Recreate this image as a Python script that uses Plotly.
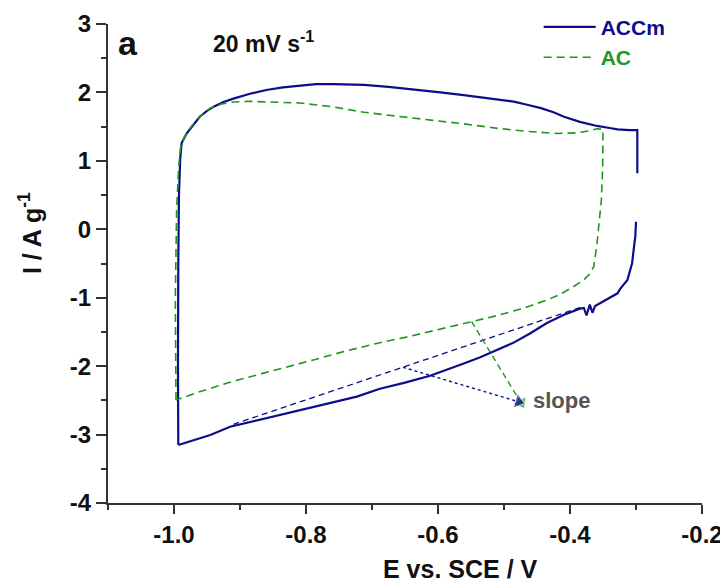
import plotly.graph_objects as go

# ---------------- data ----------------
accm_x = [-0.9935, -0.9940, -0.9935, -0.9925, -0.9905, -0.9884, -0.981, -0.970, -0.961, -0.950,
          -0.940, -0.925, -0.910, -0.885, -0.860, -0.835, -0.809, -0.785, -0.759, -0.735,
          -0.712, -0.675, -0.636, -0.600, -0.561, -0.520, -0.485, -0.465, -0.444, -0.425,
          -0.409, -0.385, -0.359, -0.340, -0.328, -0.310, -0.298, -0.298,
          None,
          -0.300, -0.301, -0.303, -0.306, -0.313, -0.324, -0.328, -0.338, -0.348, -0.362,
          -0.366, -0.370, -0.375, -0.379, -0.385, -0.409, -0.435, -0.460, -0.486, -0.520,
          -0.536, -0.561, -0.612, -0.650, -0.675, -0.688, -0.723, -0.764, -0.804, -0.839,
          -0.880, -0.915, -0.945, -0.976, -0.9935]
accm_y = [-3.15, -2.0, -0.5, 0.5, 1.05, 1.26, 1.40, 1.54, 1.645, 1.73,
          1.79, 1.86, 1.91, 1.98, 2.035, 2.075, 2.10, 2.12, 2.12, 2.12,
          2.11, 2.08, 2.045, 2.005, 1.96, 1.91, 1.865, 1.82, 1.77, 1.71,
          1.645, 1.57, 1.51, 1.48, 1.46, 1.45, 1.45, 0.82,
          None,
          0.11, -0.10, -0.255, -0.50, -0.74, -0.87, -0.936, -0.99, -1.05, -1.12,
          -1.22, -1.10, -1.26, -1.15, -1.16, -1.25, -1.37, -1.52, -1.66, -1.81,
          -1.87, -1.96, -2.14, -2.24, -2.30, -2.33, -2.446, -2.54, -2.64, -2.71,
          -2.81, -2.885, -3.006, -3.10, -3.152]

ac_x = [-0.997, -0.998, -0.996, -0.993, -0.990, -0.985, -0.978, -0.968, -0.958, -0.945,
        -0.928, -0.910, -0.885, -0.860, -0.835, -0.809, -0.760, -0.712, -0.660, -0.611,
        -0.560, -0.510, -0.465, -0.419, -0.389, -0.370, -0.359, -0.350, -0.3505, -0.3525,
        -0.356, -0.359, -0.364, -0.371, -0.379, -0.395, -0.415, -0.434, -0.471, -0.510,
        -0.549, -0.600, -0.650, -0.688, -0.740, -0.789, -0.850, -0.910, -0.960, -0.997]
ac_y = [-2.495, -1.0, 0.3, 0.9, 1.2, 1.33, 1.45, 1.57, 1.67, 1.77,
        1.83, 1.86, 1.87, 1.865, 1.86, 1.845, 1.79, 1.71, 1.65, 1.60,
        1.54, 1.475, 1.43, 1.40, 1.41, 1.44, 1.47, 1.46, 0.915, 0.43,
        0.04, -0.205, -0.547, -0.66, -0.74, -0.84, -0.95, -1.03, -1.155, -1.26,
        -1.35, -1.47, -1.58, -1.657, -1.78, -1.91, -2.07, -2.22, -2.37, -2.495]

slope_x = [-0.91, -0.385]
slope_y = [-2.85, -1.144]

ac_arrow_x = [-0.549, -0.474]
ac_arrow_y = [-1.35, -2.54]
accm_arrow_x = [-0.653, -0.478]
accm_arrow_y = [-2.017, -2.52]

x_tickvals = [-1.0, -0.8, -0.6, -0.4, -0.2]
x_ticktext = ["-1.0", "-0.8", "-0.6", "-0.4", "-0.2"]
x_minor = [-1.1, -0.9, -0.7, -0.5, -0.3]
y_tickvals = [-4, -3, -2, -1, 0, 1, 2, 3]
y_ticktext = ["-4", "-3", "-2", "-1", "0", "1", "2", "3"]
y_minor = [-3.5, -2.5, -1.5, -0.5, 0.5, 1.5, 2.5]

NAVY = "#0d0d8a"
GREEN = "#1f961f"
FONT = "Liberation Sans, Arial, sans-serif"

fig = go.Figure()

fig.add_trace(go.Scatter(x=slope_x, y=slope_y, mode="lines",
                         line=dict(color=NAVY, width=1.3, dash="6px,4px"),
                         showlegend=False, hoverinfo="skip"))
fig.add_trace(go.Scatter(x=accm_x, y=accm_y, mode="lines",
                         name='<span style="color:%s">ACCm</span>' % NAVY,
                         line=dict(color=NAVY, width=2.2), connectgaps=False))
fig.add_trace(go.Scatter(x=ac_x, y=ac_y, mode="lines",
                         name='<span style="color:%s">AC</span>' % GREEN,
                         line=dict(color=GREEN, width=1.6, dash="8px,5px")))

fig.add_trace(go.Scatter(x=ac_arrow_x, y=ac_arrow_y, mode="lines+markers",
                         line=dict(color=GREEN, width=1.4, dash="6px,4px"),
                         marker=dict(symbol="triangle-up", size=[0, 13], color=GREEN,
                                     angleref="previous"),
                         showlegend=False, hoverinfo="skip"))
fig.add_trace(go.Scatter(x=accm_arrow_x, y=accm_arrow_y, mode="lines+markers",
                         line=dict(color=NAVY, width=1.4, dash="dot"),
                         marker=dict(symbol="triangle-up", size=[0, 13], color=NAVY,
                                     angleref="previous"),
                         showlegend=False, hoverinfo="skip"))

fig.add_annotation(x=-0.459, y=-2.50, xref="x", yref="y", text="slope",
                   showarrow=False, xanchor="left", yanchor="middle",
                   font=dict(family=FONT, size=22, color="#555555", weight="bold"))
fig.add_annotation(x=-1.088, y=2.72, xref="x", yref="y", text="a",
                   showarrow=False, xanchor="left", yanchor="middle",
                   font=dict(family=FONT, size=34, color="#111111", weight="bold"))
fig.add_annotation(x=-0.944, y=2.74, xref="x", yref="y", text="20 mV s<sup>-1</sup>",
                   showarrow=False, xanchor="left", yanchor="middle",
                   font=dict(family=FONT, size=23, color="#111111", weight="bold"))
fig.add_annotation(x=-0.131, y=0.564, xref="paper", yref="paper",
                   text="I / A g<sup>-1</sup>", textangle=-90, showarrow=False,
                   xanchor="center", yanchor="middle",
                   font=dict(family=FONT, size=25, color="#111111", weight="bold"))
fig.add_annotation(x=0.594, y=-0.138, xref="paper", yref="paper",
                   text="E vs. SCE / V", showarrow=False,
                   xanchor="center", yanchor="middle",
                   font=dict(family=FONT, size=25, color="#111111", weight="bold"))

axis_common = dict(showgrid=False, zeroline=False, showline=True, linewidth=2,
                   linecolor="#333333", ticks="outside", tickwidth=2, tickcolor="#333333",
                   automargin=False,
                   tickfont=dict(family=FONT, size=24, color="#111111", weight="bold"))

fig.update_xaxes(range=[-1.1, -0.2], tickmode="array", tickvals=x_tickvals,
                 ticktext=x_ticktext, ticklen=9,
                 minor=dict(tickmode="array", tickvals=x_minor, ticks="outside",
                            ticklen=5, tickwidth=2, tickcolor="#333333"),
                 **axis_common)
fig.update_yaxes(range=[-4, 3], tickmode="array", tickvals=y_tickvals,
                 ticktext=y_ticktext, ticklen=10,
                 minor=dict(tickmode="array", tickvals=y_minor, ticks="outside",
                            ticklen=5, tickwidth=2, tickcolor="#333333"),
                 **axis_common)

# the page body adds an 8 px offset, so the figure is 720x576 with margins reduced
fig.update_layout(
    width=720, height=576, autosize=False,
    margin=dict(l=100, r=26, t=16, b=81, autoexpand=False),
    paper_bgcolor="white", plot_bgcolor="white",
    font=dict(family=FONT),
    legend=dict(x=0.725, y=1.036, xanchor="left", yanchor="top",
                bgcolor="rgba(0,0,0,0)", itemwidth=52,
                font=dict(family=FONT, size=21, weight="bold"),
                tracegroupgap=0),
)

fig.write_html("out.html")
